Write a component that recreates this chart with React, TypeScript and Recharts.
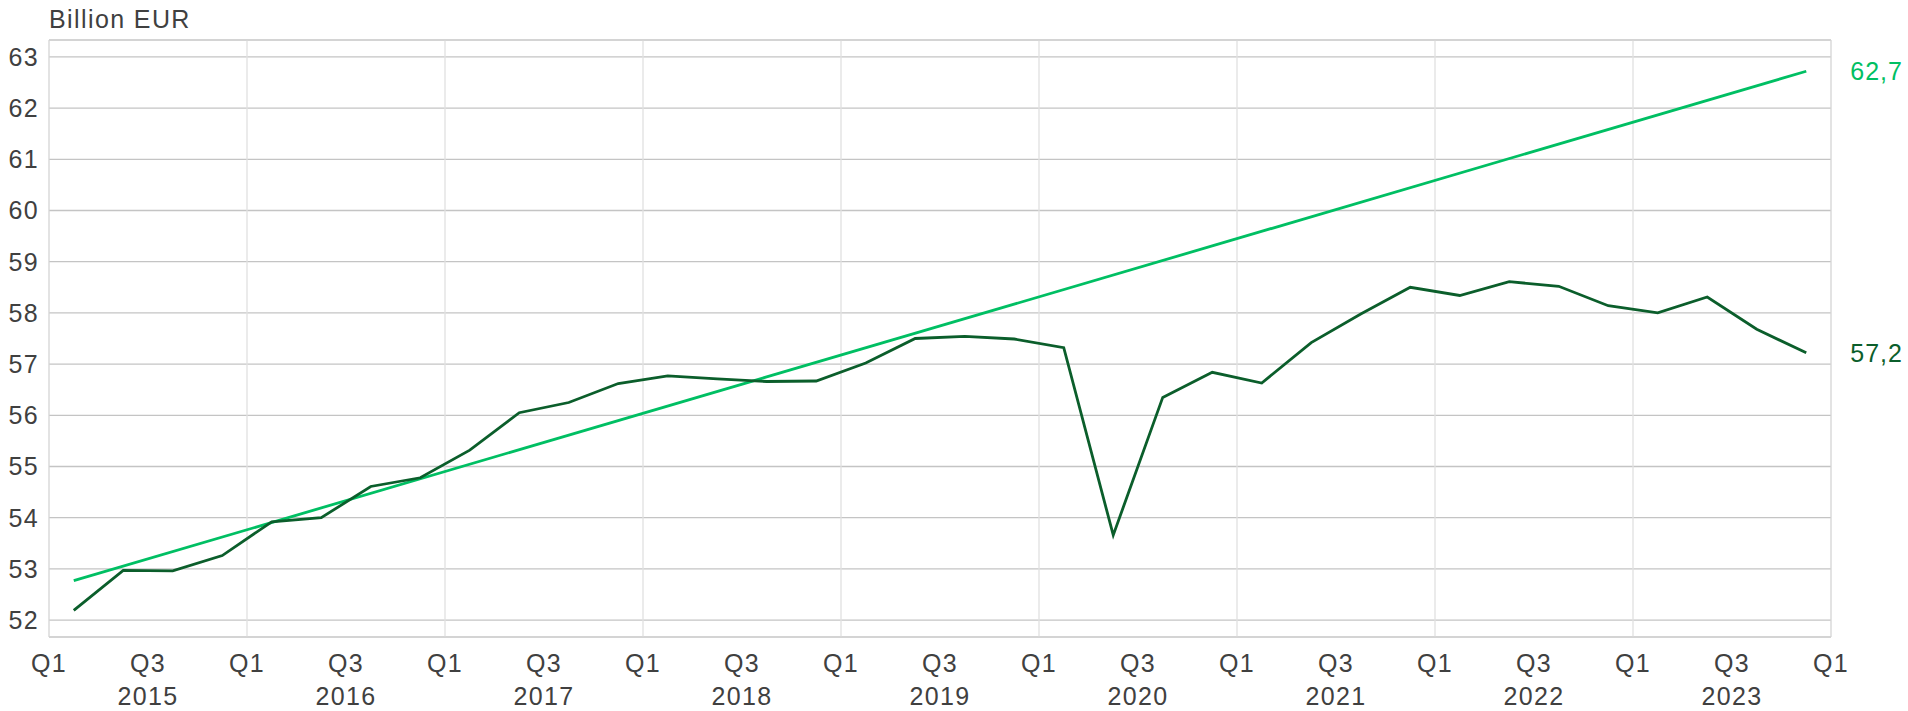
import React from 'react';
import { LineChart, Line, XAxis, YAxis, CartesianGrid, ReferenceLine } from 'recharts';

const darkGreen = '#0b5e2b';
const lightGreen = '#00bf63';
const textColor = '#404040';
const fontFamily = '"Liberation Sans", Arial, sans-serif';
const fontSize = 25;
const spacing = 1.4;

// Quarterly values, 2015 Q1 - 2023 Q4
const years = ['2015', '2016', '2017', '2018', '2019', '2020', '2021', '2022', '2023'];
const quarters = ['Q1', 'Q2', 'Q3', 'Q4'];

const actual = [
  52.19, 52.97, 52.96, 53.26,
  53.92, 54.0, 54.61, 54.78,
  55.32, 56.05, 56.25, 56.62,
  56.77, 56.71, 56.66, 56.67,
  57.02, 57.5, 57.54, 57.49,
  57.32, 53.66, 56.35, 56.84,
  56.63, 57.42, 57.98, 58.5,
  58.34, 58.61, 58.52, 58.14,
  58.0, 58.31, 57.68, 57.22,
];

// Trend line: only its two end points, joined straight
const trendStart = 52.77;
const trendEnd = 62.72;

const yTicks = [52, 53, 54, 55, 56, 57, 58, 59, 60, 61, 62, 63];
const xTicks = [0, 2, 4, 6, 8, 10, 12, 14, 16, 18, 20, 22, 24, 26, 28, 30, 32, 34, 36];
const yearStarts = [4, 8, 12, 16, 20, 24, 28, 32];

const periods = years.flatMap((y) => quarters.map((q) => `${y} ${q}`));
const data = periods.map((p, i) => ({
  period: p,
  t: i + 0.5,
  actual: actual[i],
  trend: i === 0 ? trendStart : i === periods.length - 1 ? trendEnd : null,
}));

const QuarterTick = (props: any) => {
  const { x, y, payload } = props;
  const t = payload.value as number;
  const label = t % 4 === 0 ? 'Q1' : 'Q3';
  const year = t % 4 === 2 ? years[(t - 2) / 4] : null;
  return (
    <g>
      <text x={x} y={y + 35} textAnchor="middle" fill={textColor} fontSize={fontSize} letterSpacing={spacing} fontFamily={fontFamily}>
        {label}
      </text>
      {year && (
        <text x={x} y={y + 68} textAnchor="middle" fill={textColor} fontSize={fontSize} letterSpacing={spacing} fontFamily={fontFamily}>
          {year}
        </text>
      )}
    </g>
  );
};

const endLabel = (color: string) => (props: any) => {
  const { x, y, value, index } = props;
  if (index !== data.length - 1 || value == null) return null;
  return (
    <text x={x + 44} y={y} dy="0.36em" fill={color} fontSize={fontSize} letterSpacing={1} fontFamily={fontFamily}>
      {Number(value).toFixed(1).replace('.', ',')}
    </text>
  );
};

const App = () => {
  return (
    <div style={{ position: 'absolute', left: 0, top: 0, width: 1908, height: 711, background: '#fff' }}>
      <div
        style={{
          position: 'absolute',
          left: 49,
          top: 7,
          fontFamily,
          fontSize,
          lineHeight: 1,
          letterSpacing: spacing,
          color: textColor,
        }}
      >
        Billion EUR
      </div>
      <LineChart width={1908} height={711} data={data} margin={{ top: 40, right: 77, bottom: 0, left: 0 }}>
        <CartesianGrid vertical={false} stroke="#c4c4c4" strokeWidth={1.3} />
        {yearStarts.map((t) => (
          <ReferenceLine key={t} x={t} stroke="#e0e0e0" strokeWidth={1.3} />
        ))}
        <ReferenceLine y={63.33} stroke="#d4d4d4" strokeWidth={1.3} />
        <ReferenceLine x={36} stroke="#d4d4d4" strokeWidth={1.3} />
        <XAxis
          type="number"
          dataKey="t"
          domain={[0, 36]}
          ticks={xTicks}
          interval={0}
          height={74}
          tickSize={0}
          tickMargin={0}
          axisLine={{ stroke: '#d4d4d4', strokeWidth: 1.3 }}
          tick={<QuarterTick />}
        />
        <YAxis
          domain={[51.67, 63.33]}
          ticks={yTicks}
          interval={0}
          width={49}
          tickSize={0}
          tickMargin={10}
          allowDataOverflow
          axisLine={{ stroke: '#d4d4d4', strokeWidth: 1.3 }}
          tick={{ fill: textColor, fontSize, fontFamily, letterSpacing: spacing }}
        />
        <Line
          dataKey="trend"
          stroke={lightGreen}
          strokeWidth={2.8}
          dot={false}
          connectNulls
          isAnimationActive={false}
          label={endLabel(lightGreen)}
        />
        <Line
          dataKey="actual"
          stroke={darkGreen}
          strokeWidth={2.8}
          dot={false}
          type="linear"
          isAnimationActive={false}
          label={endLabel(darkGreen)}
        />
      </LineChart>
    </div>
  );
};

export default App;
